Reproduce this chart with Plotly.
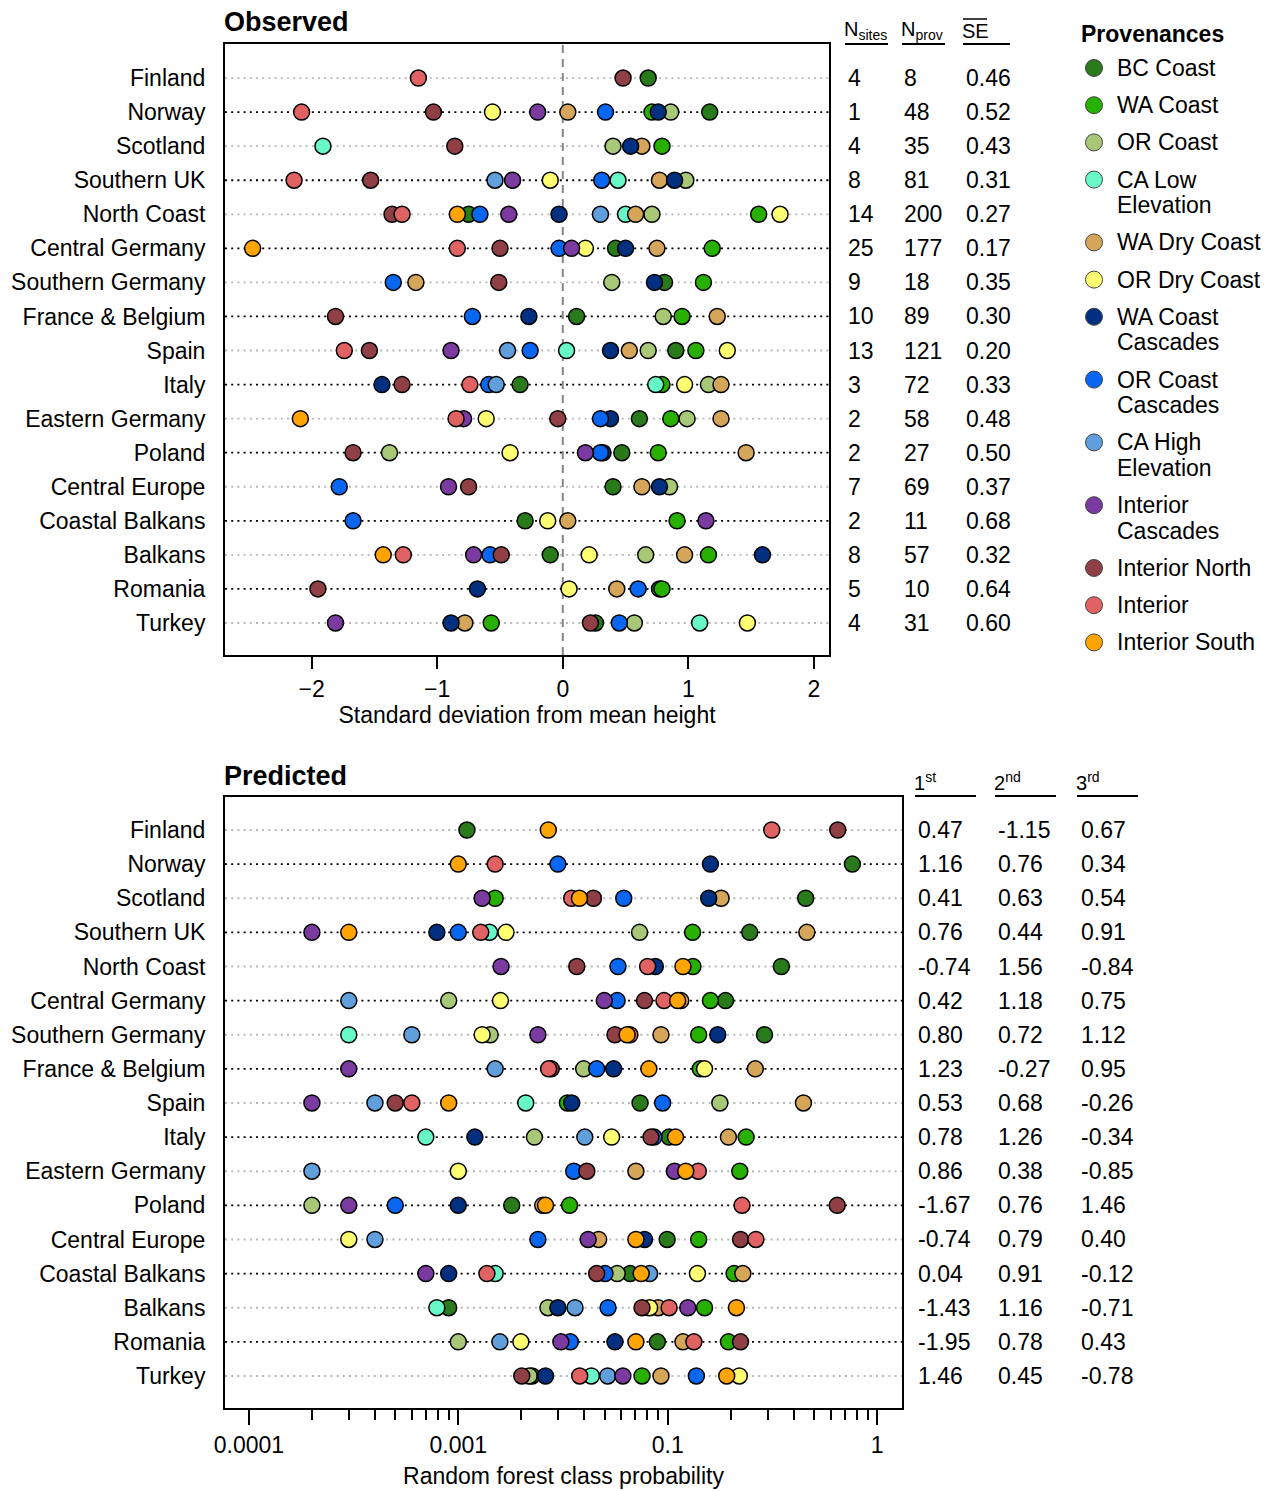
import plotly.graph_objects as go

W, H = 1273, 1491
FONT = "Liberation Sans, Arial, sans-serif"

# ---------------- data ----------------
regions = ["Finland", "Norway", "Scotland", "Southern UK", "North Coast", "Central Germany",
           "Southern Germany", "France & Belgium", "Spain", "Italy", "Eastern Germany", "Poland",
           "Central Europe", "Coastal Balkans", "Balkans", "Romania", "Turkey"]

provenances = ["BC Coast", "WA Coast", "OR Coast", "CA Low Elevation", "WA Dry Coast", "OR Dry Coast",
               "WA Coast Cascades", "OR Coast Cascades", "CA High Elevation", "Interior Cascades",
               "Interior North", "Interior", "Interior South"]
legend_labels = ["BC Coast", "WA Coast", "OR Coast", "CA Low\nElevation", "WA Dry Coast", "OR Dry Coast",
                 "WA Coast\nCascades", "OR Coast\nCascades", "CA High\nElevation", "Interior\nCascades",
                 "Interior North", "Interior", "Interior South"]
prov_colors = ["#297a1b", "#28b000", "#a8c878", "#68f8c8", "#d5a55a", "#ffff72", "#00307f",
               "#0866f0", "#609fdc", "#7a3aa0", "#903f45", "#e06262", "#ffa400"]

# Observed: standard deviation from mean height (region order as above)
obs_bc_coast = [0.68, 1.17, None, None, -0.75, 0.42, 0.81, 0.11, 0.90, -0.34, 0.61, 0.47, 0.40, -0.30, -0.10, 0.77, 0.26]
obs_wa_coast = [None, 0.71, 0.79, None, 1.56, 1.19, 1.12, 0.95, 1.06, 0.79, 0.86, 0.76, None, 0.91, 1.16, 0.79, -0.57]
obs_or_coast = [None, 0.86, 0.40, 0.98, 0.71, None, 0.39, 0.80, 0.68, 1.16, 0.99, -1.38, 0.85, None, 0.66, None, 0.57]
obs_ca_low = [None, None, -1.91, 0.44, 0.50, None, None, None, 0.03, 0.74, None, None, None, None, None, None, 1.09]
obs_wa_dry = [None, 0.04, 0.63, 0.77, 0.58, 0.75, -1.17, 1.23, 0.53, 1.26, 1.26, 1.46, 0.63, 0.04, 0.97, 0.43, -0.78]
obs_or_dry = [None, -0.56, None, -0.10, 1.73, 0.18, None, None, 1.31, 0.97, -0.61, -0.42, None, -0.12, 0.21, 0.05, 1.47]
obs_wa_cc = [None, 0.76, 0.54, 0.89, -0.03, 0.50, 0.73, -0.27, 0.38, -1.44, 0.38, 0.32, 0.77, None, 1.59, -0.68, -0.89]
obs_or_cc = [None, 0.34, None, 0.31, -0.66, -0.03, -1.35, -0.72, -0.26, -0.59, 0.30, 0.30, -1.78, -1.67, -0.58, 0.60, 0.45]
obs_ca_high = [None, None, None, -0.54, 0.30, None, None, None, -0.44, -0.53, None, None, None, None, None, None, None]
obs_int_casc = [None, -0.20, None, -0.40, -0.43, 0.07, None, None, -0.89, None, -0.79, 0.18, -0.91, 1.14, -0.71, None, -1.81]
obs_int_north = [0.48, -1.03, -0.86, -1.53, -1.36, -0.50, -0.51, -1.81, -1.54, -1.28, -0.04, -1.67, -0.75, None, -0.49, -1.95, 0.22]
obs_interior = [-1.15, -2.08, None, -2.14, -1.28, -0.84, None, None, -1.74, -0.74, -0.85, None, None, None, -1.27, None, None]
obs_int_south = [None, None, None, None, -0.84, -2.47, None, None, None, None, -2.09, None, None, None, -1.43, None, None]

# Predicted: random forest class probability
pred_bc_coast = [0.0110, 0.762, 0.456, 0.2466, 0.349, 0.189, 0.290, None, 0.0738, 0.1016, None, 0.0180, 0.0994, 0.0662, 0.0090, 0.0893, 0.0225]
pred_wa_coast = [None, None, 0.0150, 0.1315, 0.132, 0.160, 0.1406, 0.143, 0.0332, 0.237, 0.221, 0.0340, 0.1406, 0.2076, 0.150, 0.195, 0.0754]
pred_or_coast = [None, None, None, 0.0734, None, 0.0090, 0.0142, 0.0397, 0.1775, 0.0231, None, 0.0020, None, 0.0574, 0.0268, 0.0100, 0.0218]
pred_ca_low = [None, None, None, 0.0141, None, None, 0.0030, None, 0.0210, 0.0070, None, None, None, 0.0150, 0.0079, None, 0.0432]
pred_wa_dry = [None, None, 0.180, 0.462, None, 0.1155, 0.0929, 0.262, 0.445, 0.195, 0.0705, 0.0253, 0.0468, 0.2286, 0.0901, 0.1183, 0.0929]
pred_or_dry = [None, None, None, 0.0169, None, 0.0159, 0.0130, 0.150, None, 0.0540, 0.0100, None, 0.0030, 0.1387, 0.082, 0.0199, 0.2198]
pred_wa_cc = [None, 0.160, 0.157, 0.0079, 0.0873, None, 0.1734, 0.0552, 0.0348, 0.0120, None, 0.0100, 0.0775, 0.0090, 0.0299, 0.0560, 0.0261]
pred_or_cc = [None, 0.0299, 0.0617, 0.0100, 0.0579, 0.0574, None, 0.0458, 0.0946, 0.086, 0.0356, 0.0050, 0.0240, 0.0502, 0.0519, 0.0343, 0.1371]
pred_ca_high = [None, None, None, None, None, 0.0030, 0.0060, 0.0150, 0.0040, 0.0402, 0.0020, None, 0.0040, 0.0820, 0.0361, 0.0158, 0.0517]
pred_int_casc = [None, None, 0.0130, 0.0020, 0.0160, 0.0498, 0.0240, 0.0030, 0.0020, None, 0.1077, 0.0030, 0.0417, 0.0070, 0.1247, 0.0309, 0.0611]
pred_int_north = [0.649, None, 0.0442, None, 0.0368, 0.0775, 0.0560, 0.0278, 0.0050, 0.0832, 0.0411, 0.645, 0.2228, 0.0458, 0.0754, 0.2228, 0.0201]
pred_interior = [0.314, 0.0150, 0.0348, 0.0128, 0.0802, 0.0960, 0.066, 0.0270, 0.0060, None, 0.140, 0.2265, 0.2638, 0.0137, 0.1016, 0.1334, 0.0380]
pred_int_south = [0.0269, 0.0100, 0.0379, 0.0030, 0.1183, 0.1116, 0.0640, 0.0813, 0.0090, 0.109, 0.122, 0.0261, 0.0705, 0.0747, 0.213, 0.0705, 0.1914]

# Table columns
n_sites = [4, 1, 4, 8, 14, 25, 9, 10, 13, 3, 2, 2, 7, 2, 8, 5, 4]
n_prov = [8, 48, 35, 81, 200, 177, 18, 89, 121, 72, 58, 27, 69, 11, 57, 10, 31]
se_mean = [0.46, 0.52, 0.43, 0.31, 0.27, 0.17, 0.35, 0.30, 0.20, 0.33, 0.48, 0.50, 0.37, 0.68, 0.32, 0.64, 0.60]
first_sd = [0.47, 1.16, 0.41, 0.76, -0.74, 0.42, 0.80, 1.23, 0.53, 0.78, 0.86, -1.67, -0.74, 0.04, -1.43, -1.95, 1.46]
second_sd = [-1.15, 0.76, 0.63, 0.44, 1.56, 1.18, 0.72, -0.27, 0.68, 1.26, 0.38, 0.76, 0.79, 0.91, 1.16, 0.78, 0.45]
third_sd = [0.67, 0.34, 0.54, 0.91, -0.84, 0.75, 1.12, 0.95, -0.26, -0.34, -0.85, 1.46, 0.40, -0.12, -0.71, 0.43, -0.78]

obs_tick_vals = [-2, -1, 0, 1, 2]
pred_tick_vals = [0.001, 0.01, 0.1, 1]
pred_tick_text = ["0.0001", "0.001", "0.1", "1"]

# ---------------- figure ----------------
obs_values = [obs_bc_coast, obs_wa_coast, obs_or_coast, obs_ca_low, obs_wa_dry, obs_or_dry, obs_wa_cc,
              obs_or_cc, obs_ca_high, obs_int_casc, obs_int_north, obs_interior, obs_int_south]
pred_values = [pred_bc_coast, pred_wa_coast, pred_or_coast, pred_ca_low, pred_wa_dry, pred_or_dry, pred_wa_cc,
               pred_or_cc, pred_ca_high, pred_int_casc, pred_int_north, pred_interior, pred_int_south]

n = len(regions)
ypos = [n - i for i in range(n)]
TXT_PAD = 3  # annotation text inset

def px_x(p):
    return p / W

def px_y(p):
    return 1 - p / H

fig = go.Figure()
for vals_set, xa, ya in ((obs_values, "x", "y"), (pred_values, "x2", "y2")):
    for prov, col, vals in zip(provenances, prov_colors, vals_set):
        xs = [v for v in vals if v is not None]
        ys = [y for v, y in zip(vals, ypos) if v is not None]
        fig.add_trace(go.Scatter(
            x=xs, y=ys, mode="markers", name=prov, xaxis=xa, yaxis=ya, showlegend=False,
            marker=dict(size=16, color=col, line=dict(color="black", width=1.5)),
            cliponaxis=False, hoverinfo="skip"))

shapes = []
annotations = []

# dotted row guide lines
for yref in ("y", "y2"):
    for i, y in enumerate(ypos):
        shapes.append(dict(type="line", xref=f"{'x' if yref == 'y' else 'x2'} domain", x0=0, x1=1,
                           yref=yref, y0=y, y1=y, layer="below",
                           line=dict(color="black" if i % 2 else "#b8b8b8", width=1.8, dash="2px,4.2px")))

# zero reference line
shapes.append(dict(type="line", xref="x", x0=0, x1=0, yref="y domain", y0=0, y1=1, layer="below",
                   line=dict(color="#858585", width=2, dash="8px,6px")))

axis_font = dict(family=FONT, size=23, color="black")

def text_at(text, xp, y, yref="paper", font=axis_font, xanchor="left"):
    return dict(text=text, xref="paper", yref=yref, x=px_x(xp - TXT_PAD), y=y,
                xanchor=xanchor, yanchor="middle", showarrow=False, font=font)

# Panel titles
annotations.append(text_at("<b>Observed</b>", 225, px_y(22), font=dict(family=FONT, size=27, color="black")))
annotations.append(text_at("<b>Predicted</b>", 225, px_y(776), font=dict(family=FONT, size=27, color="black")))

# Observed table
hdr_font = dict(family=FONT, size=20, color="black")
for txt, xh, x0, x1 in (("N<sub>sites</sub>", 845, 845, 888), ("N<sub>prov</sub>", 902, 902, 945), ("SE", 963, 963, 1010)):
    annotations.append(text_at(txt, xh, px_y(31), font=hdr_font))
    shapes.append(dict(type="line", xref="paper", yref="paper", x0=px_x(x0), x1=px_x(x1),
                       y0=px_y(44), y1=px_y(44), line=dict(color="black", width=2)))
shapes.append(dict(type="line", xref="paper", yref="paper", x0=px_x(963), x1=px_x(987),
                   y0=px_y(19), y1=px_y(19), line=dict(color="black", width=1.5)))

for col_vals, xc, fmt in ((n_sites, 849, "{}"), (n_prov, 905, "{}"), (se_mean, 967, "{:.2f}")):
    for v, y in zip(col_vals, ypos):
        annotations.append(text_at(fmt.format(v), xc, y, yref="y"))

# Predicted table
for txt, xh, x0, x1 in (("1<sup>st</sup>", 915, 915, 976), ("2<sup>nd</sup>", 995, 995, 1056), ("3<sup>rd</sup>", 1077, 1077, 1138)):
    annotations.append(text_at(txt, xh, px_y(781), font=hdr_font))
    shapes.append(dict(type="line", xref="paper", yref="paper", x0=px_x(x0), x1=px_x(x1),
                       y0=px_y(796), y1=px_y(796), line=dict(color="black", width=2)))

for col_vals, xc in ((first_sd, 919), (second_sd, 999), (third_sd, 1082)):
    for v, y in zip(col_vals, ypos):
        annotations.append(text_at(f"{v:.2f}", xc, y, yref="y2"))

# Legend (manual)
annotations.append(text_at("<b>Provenances</b>", 1082, px_y(34)))
ly = 68.0
for lab, col in zip(legend_labels, prov_colors):
    lines = lab.split("\n")
    shapes.append(dict(type="circle", xref="paper", yref="paper", xsizemode="pixel", ysizemode="pixel",
                       xanchor=px_x(1094), yanchor=px_y(ly), x0=-8.5, x1=8.5, y0=-8.5, y1=8.5,
                       fillcolor=col, line=dict(color="#444444", width=1)))
    for k, line in enumerate(lines):
        annotations.append(text_at(line, 1118, px_y(ly + 25.6 * k)))
    ly += 37.2 + 25.6 * (len(lines) - 1)

minor_vals = [k * 10.0 ** d for d in (-3, -2, -1) for k in range(2, 10)]

common_axis = dict(showline=True, linewidth=2, linecolor="black", mirror=True, showgrid=False,
                   zeroline=False, tickfont=axis_font, automargin=False)

fig.update_layout(
    width=W, height=H, margin=dict(l=0, r=0, t=0, b=0, pad=0, autoexpand=False),
    paper_bgcolor="white", plot_bgcolor="white",
    font=dict(family=FONT, size=23, color="black"),
    showlegend=False,
    xaxis=dict(domain=[px_x(225), px_x(829)], range=[-2.69, 2.12], anchor="y",
               tickmode="array", tickvals=obs_tick_vals, ticks="outside", ticklen=12, tickwidth=2,
               tickcolor="black",
               title=dict(text="Standard deviation from mean height", font=axis_font, standoff=1),
               **common_axis),
    yaxis=dict(domain=[px_y(655), px_y(44)], range=[0.06, 18.0], anchor="x",
               tickmode="array", tickvals=ypos, ticktext=regions, ticks="", ticklabelstandoff=13,
               **common_axis),
    xaxis2=dict(type="log", domain=[px_x(225), px_x(902)], range=[-3.114, 0.119], anchor="y2",
                tickmode="array", tickvals=pred_tick_vals, ticktext=pred_tick_text, ticks="outside",
                ticklen=15, tickwidth=2, tickcolor="black",
                minor=dict(tickmode="array", tickvals=minor_vals, ticks="outside", ticklen=10,
                           tickwidth=2, tickcolor="black", showgrid=False),
                title=dict(text="Random forest class probability", font=axis_font, standoff=11),
                **common_axis),
    yaxis2=dict(domain=[px_y(1408), px_y(797)], range=[0.062, 17.967], anchor="x2",
                tickmode="array", tickvals=ypos, ticktext=regions, ticks="", ticklabelstandoff=13,
                **common_axis),
    shapes=shapes,
    annotations=annotations,
)

fig.write_html("out.html", config={"displayModeBar": False},
               post_script="document.body.style.margin='0';document.body.style.overflow='hidden';")
